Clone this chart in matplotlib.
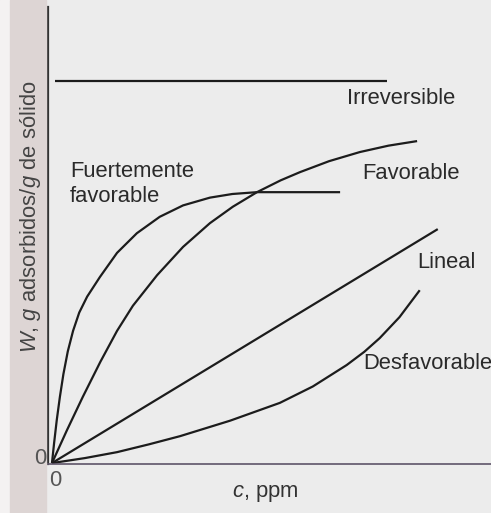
import matplotlib
matplotlib.use("Agg")
import matplotlib.pyplot as plt
from matplotlib.patches import Rectangle

# curve values (arbitrary units)
irrev_x = [0.07, 7.61]
irrev_y = [8.38, 8.38]

fuerte_x = [0.00, 0.05, 0.11, 0.18, 0.26, 0.36, 0.48, 0.62, 0.80, 1.09, 1.48, 1.93,
            2.45, 2.98, 3.59, 4.10, 4.66, 6.55]
fuerte_y = [0.00, 0.45, 0.95, 1.45, 1.95, 2.45, 2.90, 3.30, 3.65, 4.08, 4.61, 5.04,
            5.40, 5.65, 5.82, 5.90, 5.94, 5.94]

fav_x = [0.00, 0.34, 0.70, 1.10, 1.48, 1.84, 2.39, 2.98, 3.59, 4.11, 4.66, 5.20,
         5.64, 6.30, 7.00, 7.65, 8.30]
fav_y = [0.00, 0.72, 1.45, 2.22, 2.90, 3.45, 4.12, 4.74, 5.26, 5.62, 5.94, 6.20,
         6.38, 6.62, 6.82, 6.96, 7.06]

lineal_x = [0.00, 8.77]
lineal_y = [0.00, 5.13]

desfav_x = [0.00, 0.75, 1.48, 2.20, 2.91, 4.05, 5.18, 5.93, 6.70, 7.10, 7.45, 7.90, 8.36]
desfav_y = [0.00, 0.11, 0.24, 0.41, 0.59, 0.93, 1.32, 1.68, 2.15, 2.44, 2.74, 3.20, 3.79]

labels = ["Irreversible", "Fuertemente\nfavorable", "Favorable", "Lineal", "Desfavorable"]
label_pos = [(6.70, 8.00), (0.41, 6.12), (7.05, 6.36), (8.30, 4.39), (7.07, 2.19)]

W, H = 491, 513
plt.rcParams['font.family'] = ['Liberation Sans', 'DejaVu Sans']
plt.rcParams['mathtext.fontset'] = 'custom'
plt.rcParams['mathtext.it'] = 'Liberation Sans:italic'
plt.rcParams['mathtext.rm'] = 'Liberation Sans'

fig = plt.figure(figsize=(W / 100, H / 100), dpi=100)
fig.patch.set_facecolor('#ececec')
# scanned page edge on the left
fig.patches.append(Rectangle((0, 0), 10 / W, 1, transform=fig.transFigure,
                             color='#f4f2f2', zorder=0))
fig.patches.append(Rectangle((10 / W, 0), 36 / W, 1, transform=fig.transFigure,
                             color='#ddd5d4', zorder=0))

ax = fig.add_axes([48 / W, 49 / H, (W - 48) / W, (464 - 7) / H])
ax.set_facecolor('none')
ax.set_xlim(-0.09, 9.98)
ax.set_ylim(-0.02, 10.0)

lc = '#1c1c1c'
lw = 1.6
for xs, ys in [(irrev_x, irrev_y), (fuerte_x, fuerte_y), (fav_x, fav_y),
               (lineal_x, lineal_y), (desfav_x, desfav_y)]:
    ax.plot(xs, ys, color=lc, lw=lw, solid_joinstyle='round', solid_capstyle='butt')

for txt, (x, y) in zip(labels, label_pos):
    ax.text(x, y, txt, fontsize=15.8, color='#2a2a2a', ha='left', va='center',
            linespacing=1.25)

for s in ['top', 'right']:
    ax.spines[s].set_visible(False)
ax.spines['left'].set_color('#333333')
ax.spines['left'].set_linewidth(1.6)
ax.spines['bottom'].set_color('#5e5468')
ax.spines['bottom'].set_linewidth(1.2)
ax.set_xticks([])
ax.set_yticks([])

fig.text(55 / W, 1 - 481 / H, "0", fontsize=15.8, color='#555555', ha='center', va='center')
fig.text(40 / W, 1 - 459 / H, "0", fontsize=15.8, color='#555555', ha='center', va='center')
fig.text(265 / W, 1 - 493 / H, r"$c$, ppm", fontsize=15.8, color='#333333',
         ha='center', va='center')
fig.text(31 / W, 1 - 217 / H, r"$W$, $g$ adsorbidos/$g$ de sólido",
         fontsize=15.8, color='#444444', ha='center', va='center', rotation=90)

fig.savefig('out.png', dpi=100, facecolor=fig.get_facecolor())
